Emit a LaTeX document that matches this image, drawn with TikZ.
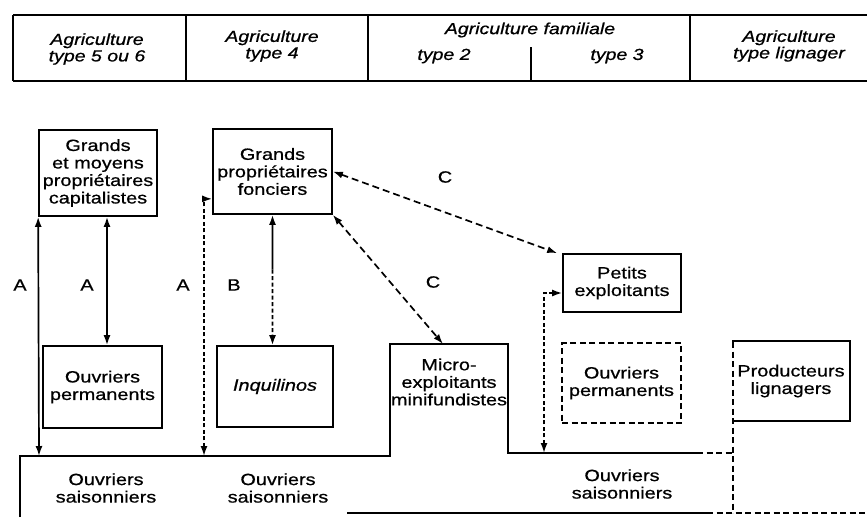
\documentclass[tikz,border=0pt]{standalone}
\usepackage{fontspec}
\setmainfont{Liberation Sans}[FakeStretch=1.22,FakeBold=0.7]
\usetikzlibrary{arrows.meta,calc}
\newcommand\myfs{\fontsize{16.3}{17.5}\selectfont}
\newcommand\myhfs{\fontsize{16}{16.5}\selectfont}
\begin{document}
\begin{tikzpicture}[x=1pt,y=-1pt,line width=1.7pt,
  >={Latex[length=10pt,width=7pt]},
  boxn/.style={draw,align=center,inner sep=0pt,font=\myfs},
  txt/.style={align=center,inner sep=0pt,font=\myfs},
  hdr/.style={align=center,inner sep=0pt,font=\myhfs\itshape},
  lab/.style={inner sep=0pt,font=\myfs},
  dsh/.style={dash pattern=on 7pt off 4pt},
  fdsh/.style={dash pattern=on 4pt off 2.5pt},
  bdsh/.style={dash pattern=on 6pt off 3.5pt}]
\useasboundingbox (0,0) rectangle (867,517);

% header
\draw (13,15) -- (867,15);
\draw (13,81) -- (867,81);
\draw (13,15) -- (13,81);
\draw (186,15) -- (186,81);
\draw (368,15) -- (368,81);
\draw (690,15) -- (690,81);
\draw (531,47) -- (531,81);
\node[hdr] (h1) at (97,49) {Agriculture\\type 5 ou 6};
\node[hdr] (h2) at (272,46) {Agriculture\\type 4};
\node[hdr] (h3) at (530,30) {Agriculture familiale};
\node[hdr] (h3a) at (444,56) {type 2};
\node[hdr] (h3b) at (617,56) {type 3};
\node[hdr] (h4) at (789,46) {Agriculture\\type lignager};

% boxes
\node[boxn,minimum width=118pt,minimum height=86pt] (cap) at (98,173)
  {Grands\\et moyens\\propriétaires\\capitalistes};
\node[boxn,minimum width=119pt,minimum height=85pt] (fonc) at (272.5,171.5)
  {Grands\\propriétaires\\fonciers};
\node[boxn,minimum width=119pt,minimum height=82pt] (perm1) at (102.5,387)
  {Ouvriers\\permanents};
\node[boxn,minimum width=116pt,minimum height=81pt] (inq) at (275,386.5)
  {\itshape Inquilinos};
\node[boxn,minimum width=118pt,minimum height=58pt] (petits) at (622,283)
  {Petits\\exploitants};
\node[boxn,bdsh,minimum width=119pt,minimum height=80pt] (perm2) at (621.5,383)
  {Ouvriers\\permanents};
\node[txt,minimum width=116pt,minimum height=78pt] (prod) at (791,381)
  {Producteurs\\lignagers};
\draw (prod.north west) -- (prod.north east) -- (prod.south east) -- (prod.south west);

\node[txt] (micro) at (449,382) {Micro-\\exploitants\\minifundistes};
\node[txt] (sais1) at (106,488) {Ouvriers\\saisonniers};
\node[txt] (sais2) at (278,488) {Ouvriers\\saisonniers};
\node[txt] (sais3) at (622,484) {Ouvriers\\saisonniers};

% outline of the seasonal workers / micro-exploitants
\draw (20,517) -- (20,456) -- (390,456) -- (390,344) -- (508,344) -- (508,453) -- (697,453);
\draw[bdsh] (697,453) -- (733,453);
\draw[bdsh] (733,342) -- (733,513);
\draw (347,513) -- (707,513);
\draw[bdsh] (707,513) -- (867,513);

\coordinate (sA1) at (39,456);
\coordinate (x107) at (107,0);
\coordinate (sA3) at (204,456);
\coordinate (sP) at (544,453);
\coordinate (mtop) at (443,344);

% connectors
\draw[<->] (cap.south west) -- (sA1);
\draw[<->] (cap.south -| x107) -- (perm1.north -| x107);
\draw[fdsh,<->] (sA3) |- ([yshift=16pt]fonc.south west);
\draw[<-] (fonc.south) -- ($(fonc.south)!0.42!(inq.north -| fonc.south)$) coordinate (bm);
\draw[fdsh,->] (bm) -- (inq.north -| fonc.south);
\draw[dsh,<->] (fonc.east) -- ([xshift=-5pt]petits.north west);
\draw[dsh,<->] (fonc.south east) -- (mtop);
\draw[fdsh,<->] (sP) |- ([yshift=-10pt]petits.west);

% labels
\node[lab] (la1) at (20,285) {A};
\node[lab] (la2) at (87,285) {A};
\node[lab] (la3) at (183,285) {A};
\node[lab] (lb) at (234,285) {B};
\node[lab] (lc1) at (445,177) {C};
\node[lab] (lc2) at (433,282) {C};
\end{tikzpicture}
\end{document}
